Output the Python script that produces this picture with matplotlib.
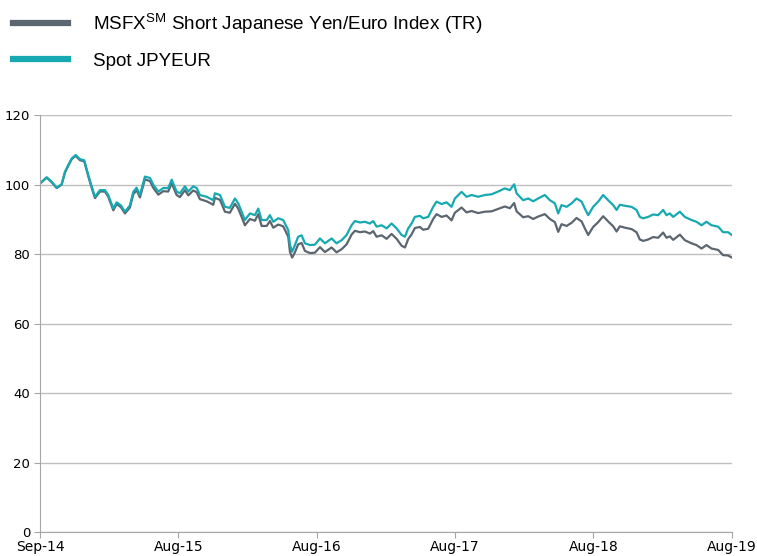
import numpy as np
import matplotlib.pyplot as plt

# months since Sep-2014 for each reading
months = [0, 0.58, 1.01, 1.45, 1.88, 2.17, 2.45, 2.75, 3.10, 3.47, 3.84, 4.19, 4.48, 4.77,
          5.20, 5.64, 5.92, 6.36, 6.65, 7.02, 7.37, 7.80, 8.09, 8.38, 8.67, 9.10, 9.54, 9.82,
          10.26, 10.69, 11.12, 11.42, 11.85, 12.14, 12.57, 12.86, 13.29, 13.59, 13.87, 14.45,
          15.03, 15.17, 15.61, 16.04, 16.47, 16.91, 17.19, 17.49, 17.77, 18.21, 18.64, 18.93,
          19.22, 19.66, 19.94, 20.23, 20.66, 21.09, 21.53, 21.68, 21.87, 22.11, 22.39, 22.69,
          22.98, 23.41, 23.84, 24.28, 24.71, 25.29, 25.72, 26.16, 26.59, 27.02, 27.31, 27.75,
          28.18, 28.61, 28.90, 29.19, 29.63, 30.06, 30.49, 30.93, 31.36, 31.65, 31.93, 32.23,
          32.51, 32.95, 33.23, 33.67, 34.10, 34.39, 34.83, 35.26, 35.69, 35.98, 36.56, 36.99,
          37.43, 38.00, 38.58, 39.16, 39.73, 40.31, 40.75, 41.12, 41.33, 41.90, 42.34, 42.77,
          43.20, 43.78, 44.22, 44.65, 44.94, 45.23, 45.67, 46.10, 46.53, 46.97, 47.25, 47.54,
          47.97, 48.41, 48.84, 49.27, 49.71, 50.00, 50.29, 50.72, 51.30, 51.73, 52.02, 52.31,
          52.74, 53.17, 53.61, 54.04, 54.33, 54.62, 54.91, 55.49, 55.92, 56.50, 56.93, 57.37,
          57.80, 58.23, 58.81, 59.24, 59.67, 60.00]

spot = [100.3, 102.1, 100.8, 99.1, 100.1, 103.7, 105.6, 107.5, 108.5, 107.3, 107.0, 102.7, 99.5, 96.5,
        98.4, 98.4, 97.0, 93.1, 94.9, 94.0, 92.2, 94.0, 97.9, 99.1, 97.0, 102.3, 101.9, 100.0,
        98.0, 99.0, 99.0, 101.4, 98.0, 97.5, 99.5, 98.0, 99.5, 99.0, 97.0, 96.5,
        95.5, 97.5, 97.0, 93.6, 93.3, 96.0, 94.6, 92.2, 89.8, 91.7, 91.2, 93.1,
        89.8, 89.8, 91.2, 89.3, 90.3, 89.8, 86.9, 82.6, 80.7, 82.6, 85.0, 85.4,
        83.1, 82.6, 82.7, 84.5, 83.1, 84.5, 83.1, 84.0, 85.5, 88.3, 89.5, 89.1,
        89.3, 88.8, 89.5, 87.9, 88.3, 87.4, 88.8, 87.4, 85.5, 85.0, 87.4, 88.8,
        90.7, 91.0, 90.3, 90.7, 93.6, 95.1, 94.4, 94.9, 93.6, 96.0, 97.9, 96.5,
        97.0, 96.5, 97.0, 97.2, 98.0, 98.9, 98.4, 100.1, 97.5, 95.5, 96.0, 95.2,
        96.0, 97.0, 95.5, 94.6, 91.7, 94.1, 93.6, 94.6, 96.0, 95.1, 93.1, 91.2,
        93.6, 95.1, 97.0, 95.5, 94.1, 92.7, 94.2, 93.9, 93.6, 92.7, 90.7, 90.3,
        90.7, 91.4, 91.2, 92.7, 91.2, 91.7, 90.7, 92.2, 90.7, 89.8, 89.3, 88.3,
        89.3, 88.3, 87.9, 86.3, 86.3, 85.5]

msfx = [100.3, 102.0, 100.7, 99.0, 100.0, 103.5, 105.4, 107.3, 108.3, 107.0, 106.7, 102.4, 99.1, 96.1,
        98.0, 98.0, 96.5, 92.6, 94.4, 93.5, 91.7, 93.4, 97.2, 98.4, 96.3, 101.5, 101.0, 99.1,
        97.1, 98.1, 98.0, 100.4, 97.0, 96.4, 98.4, 96.9, 98.3, 97.8, 95.8, 95.2,
        94.2, 96.2, 95.6, 92.2, 91.9, 94.5, 93.1, 90.7, 88.3, 90.1, 89.6, 91.5,
        88.1, 88.1, 89.5, 87.6, 88.5, 88.0, 85.0, 80.6, 79.0, 80.5, 82.8, 83.2,
        80.9, 80.3, 80.4, 82.0, 80.6, 81.9, 80.5, 81.4, 82.8, 85.6, 86.7, 86.3,
        86.5, 85.9, 86.6, 85.0, 85.4, 84.4, 85.8, 84.4, 82.4, 81.9, 84.3, 85.7,
        87.5, 87.8, 87.0, 87.3, 90.1, 91.5, 90.7, 91.1, 89.7, 91.9, 93.4, 92.0,
        92.4, 91.8, 92.2, 92.3, 93.0, 93.7, 93.2, 94.7, 92.3, 90.6, 90.9, 90.1,
        90.8, 91.5, 90.1, 89.2, 86.4, 88.6, 88.1, 89.0, 90.4, 89.4, 87.4, 85.5,
        87.8, 89.2, 90.9, 89.4, 88.0, 86.5, 88.0, 87.6, 87.2, 86.3, 84.2, 83.8,
        84.2, 84.9, 84.7, 86.2, 84.7, 85.1, 84.1, 85.6, 84.0, 83.1, 82.6, 81.6,
        82.6, 81.6, 81.2, 79.7, 79.6, 79.0]

tick_pos = [0, 12, 24, 36, 48, 60]
tick_labels = ['Sep-14', 'Aug-15', 'Aug-16', 'Aug-17', 'Aug-18', 'Aug-19']

fig = plt.figure(figsize=(7.57, 5.56), dpi=100)
ax = fig.add_axes([0.0528, 0.043, 0.914, 0.750])

ax.plot(months, msfx, color='#5B6670', linewidth=1.6,
        label='MSFX$^{\\mathregular{SM}}$ Short Japanese Yen/Euro Index (TR)')
ax.plot(months, spot, color='#17A9B1', linewidth=1.6, label='Spot JPYEUR')

ax.set_xlim(0, 60)
ax.set_ylim(0, 120)
ax.set_yticks(range(0, 121, 20))
ax.set_xticks(tick_pos)
ax.set_xticklabels(tick_labels)
ax.yaxis.grid(True, color='#BFBFBF', linewidth=1)
ax.set_axisbelow(True)
for s in ['top', 'right']:
    ax.spines[s].set_visible(False)
for s in ['left', 'bottom']:
    ax.spines[s].set_color('#A6A6A6')
ax.tick_params(axis='both', colors='#A6A6A6', labelcolor='black', labelsize=10, length=4)
ax.tick_params(axis='y', labelsize=9.5, pad=3)
ax.tick_params(axis='x', pad=2)

fig.legend(loc='upper left', bbox_to_anchor=(0.0, 1.004), frameon=False,
           prop={'family': 'Liberation Sans', 'size': 13.6},
           handlelength=2.9, handletextpad=1.3, labelspacing=0.9, borderaxespad=0.3)
for line in fig.legends[0].get_lines():
    line.set_linewidth(4.5)

plt.savefig('out.png', dpi=100)
